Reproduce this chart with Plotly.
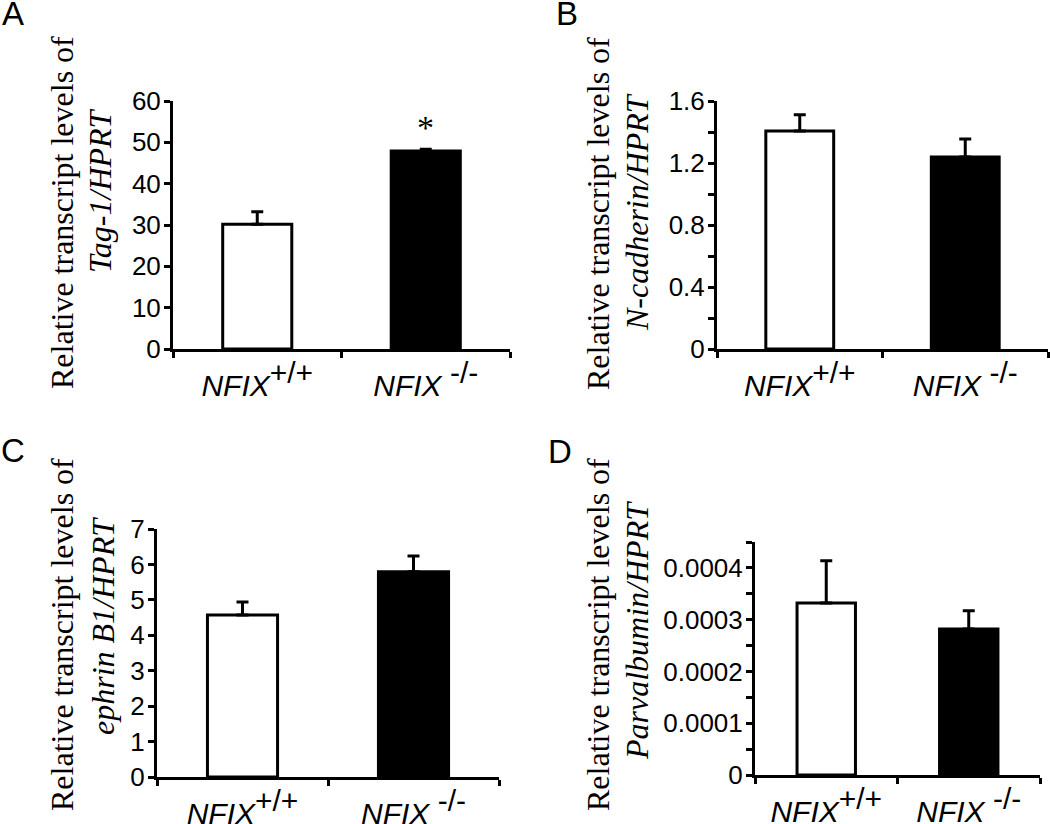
import plotly.graph_objects as go

# ---------------- data ----------------
categories = ["NFIX+/+", "NFIX-/-"]
tick_labels = [
    "<i>NFIX</i><sup><span style='font-size:30px'>+/+</span></sup>",
    "<i>NFIX</i> <sup><span style='font-size:30px'>-/-</span></sup>",
]

tag1_mean = [30.2, 47.9]
tag1_sem = [3.0, 0.4]
ncad_mean = [1.406, 1.239]
ncad_sem = [0.105, 0.116]
ephrin_mean = [4.57, 5.79]
ephrin_sem = [0.37, 0.45]
parv_mean = [0.000332, 0.000282]
parv_sem = [0.000082, 0.000035]

panel_letters = ["A", "B", "C", "D"]
gene_labels = ["Tag-1/HPRT", "N-cadherin/HPRT", "ephrin B1/HPRT", "Parvalbumin/HPRT"]
title_line1 = "Relative transcript levels of"

y_max = [60, 1.6, 7, 0.00045]
y_tickvals = [
    [0, 10, 20, 30, 40, 50, 60],
    [0, 0.4, 0.8, 1.2, 1.6],
    [0, 1, 2, 3, 4, 5, 6, 7],
    [0, 0.0001, 0.0002, 0.0003, 0.0004],
]
y_ticktext = [
    ["0", "10", "20", "30", "40", "50", "60"],
    ["0", "0.4", "0.8", "1.2", "1.6"],
    ["0", "1", "2", "3", "4", "5", "6", "7"],
    ["0", "0.0001", "0.0002", "0.0003", "0.0004"],
]
y_minor = [None, 0.2, None, 0.00005]
star_label = "*"
star_value = 53.5  # asterisk height on panel A (y units)

means = [tag1_mean, ncad_mean, ephrin_mean, parv_mean]
sems = [tag1_sem, ncad_sem, ephrin_sem, parv_sem]

# ---------------- layout geometry (pixels) ----------------
W, H = 1050, 824
plot_boxes = [  # left, right, top, bottom
    (173, 510, 101, 349),
    (717, 1048, 101, 349),
    (157, 499, 529, 777),
    (755, 1040, 542, 775),
]
letter_pos = [(0, -7), (554, -7), (-1, 430), (546, 431)]
title1_pos = [(62, 213), (598, 214), (62, 635), (598, 635)]
title2_pos = [(100, 191), (637, 212), (103, 626), (637, 631)]

bar_colors = ["white", "black"]

fig = go.Figure()
layout = dict(
    template="none",
    width=W, height=H,
    autosize=False,
    margin=dict(l=0, r=0, t=0, b=0, pad=0),
    paper_bgcolor="white", plot_bgcolor="white",
    showlegend=False,
    annotations=[],
)

for i in range(4):
    xa = "x" if i == 0 else f"x{i+1}"
    ya = "y" if i == 0 else f"y{i+1}"
    fig.add_trace(go.Bar(
        x=tick_labels, y=means[i],
        xaxis=xa, yaxis=ya,
        width=0.41,
        marker=dict(color=bar_colors, line=dict(color="black", width=3)),
        error_y=dict(type="data", symmetric=False, array=sems[i],
                     arrayminus=[0, 0], color="black", thickness=3, width=6),
    ))
    l, r, t, b = plot_boxes[i]
    xkey = "xaxis" if i == 0 else f"xaxis{i+1}"
    ykey = "yaxis" if i == 0 else f"yaxis{i+1}"
    layout[xkey] = dict(
        domain=[l / W, r / W], anchor=ya,
        type="category", automargin=False,
        showline=True, linecolor="black", linewidth=3,
        ticks="outside", tickson="boundaries", ticklen=6, tickwidth=3,
        tickcolor="black",
        tickfont=dict(family="Liberation Sans, Arial", size=30, color="black"),
        ticklabelstandoff=8,
        showgrid=False, zeroline=False, fixedrange=True,
    )
    ydict = dict(
        domain=[1 - b / H, 1 - t / H], anchor=xa,
        range=[0, y_max[i]], automargin=False,
        showline=True, linecolor="black", linewidth=3,
        ticks="outside", ticklen=6, tickwidth=3, tickcolor="black",
        tickmode="array", tickvals=y_tickvals[i], ticktext=y_ticktext[i],
        tickfont=dict(family="Liberation Sans, Arial", size=26, color="black"),
        ticklabelstandoff=-2,
        showgrid=False, zeroline=False, fixedrange=True,
    )
    if y_minor[i] is not None:
        ydict["minor"] = dict(tickmode="linear", tick0=0, dtick=y_minor[i],
                              ticks="outside", ticklen=6, tickwidth=3,
                              tickcolor="black", showgrid=False)
    layout[ykey] = ydict

    lx, ly = letter_pos[i]
    layout["annotations"].append(dict(
        text=panel_letters[i], xref="paper", yref="paper",
        x=lx / W, y=1 - ly / H, xanchor="left", yanchor="top",
        showarrow=False,
        font=dict(family="Liberation Sans, Arial", size=33, color="black"),
    ))
    t1x, t1y = title1_pos[i]
    layout["annotations"].append(dict(
        text=title_line1, xref="paper", yref="paper",
        x=t1x / W, y=1 - t1y / H, xanchor="center", yanchor="middle",
        textangle=-90, showarrow=False,
        font=dict(family="Liberation Serif, Times New Roman", size=32, color="black"),
    ))
    t2x, t2y = title2_pos[i]
    layout["annotations"].append(dict(
        text=f"<i>{gene_labels[i]}</i>", xref="paper", yref="paper",
        x=t2x / W, y=1 - t2y / H, xanchor="center", yanchor="middle",
        textangle=-90, showarrow=False,
        font=dict(family="Liberation Serif, Times New Roman", size=32, color="black"),
    ))

layout["annotations"].append(dict(
    text=star_label, xref="x", yref="y",
    x=tick_labels[1], y=star_value, xanchor="center", yanchor="middle",
    showarrow=False,
    font=dict(family="Liberation Serif, Times New Roman", size=34, color="black"),
))

fig.update_layout(**layout)
fig.write_html(
    "out.html",
    config={"displayModeBar": False},
    post_script="document.body.style.margin='0';document.body.style.padding='0';",
)
